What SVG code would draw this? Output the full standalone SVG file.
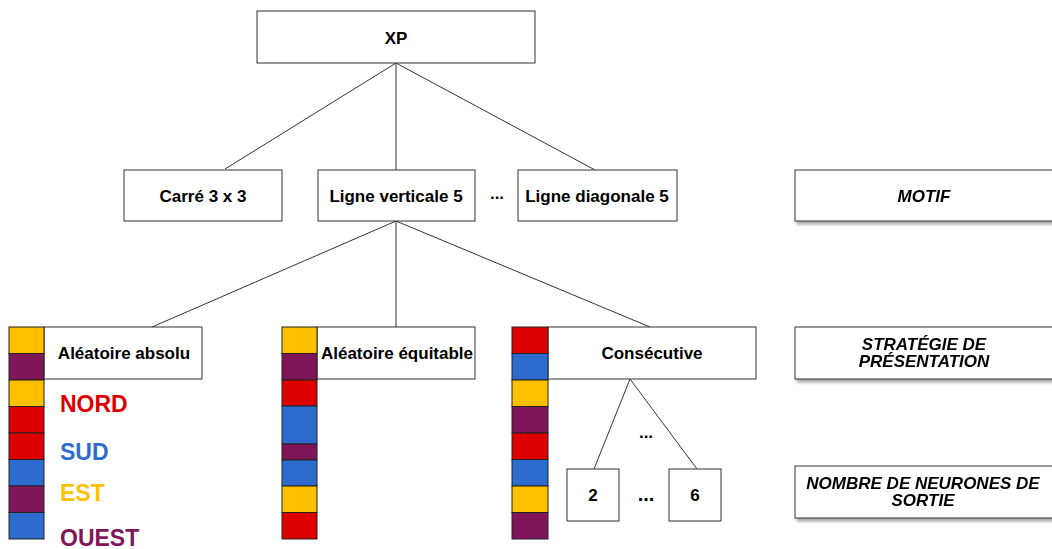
<svg xmlns="http://www.w3.org/2000/svg" width="1052" height="549" viewBox="0 0 1052 549">
<defs>
<filter id="sh" x="-10%" y="-20%" width="130%" height="160%">
<feGaussianBlur in="SourceAlpha" stdDeviation="1.5"/>
<feOffset dx="2" dy="3" result="b"/>
<feComponentTransfer><feFuncA type="linear" slope="0.35"/></feComponentTransfer>
<feMerge><feMergeNode/><feMergeNode in="SourceGraphic"/></feMerge>
</filter>
</defs>
<style>
.box{fill:#fff;stroke:#333;stroke-width:1}
.t{font-family:"Liberation Sans",Arial,sans-serif;font-weight:bold;font-size:17px;fill:#000;text-anchor:middle}
.i{font-style:italic}
.lbl{font-family:"Liberation Sans",Arial,sans-serif;font-weight:bold;font-size:23px}
.y{fill:#FFC000;stroke:#222;stroke-width:1}
.p{fill:#80155A;stroke:#222;stroke-width:1}
.r{fill:#DD0000;stroke:#222;stroke-width:1}
.b{fill:#2D6BCF;stroke:#222;stroke-width:1}
.c{stroke:#333;stroke-width:1;fill:none}
</style>
<rect width="1052" height="549" fill="#fff"/>
<g id="connectors">
<line class="c" x1="396" y1="63" x2="225" y2="169"/>
<line class="c" x1="396" y1="63" x2="396" y2="170"/>
<line class="c" x1="396" y1="63" x2="595" y2="170"/>
<line class="c" x1="396" y1="221" x2="152" y2="327"/>
<line class="c" x1="396" y1="221" x2="396" y2="327"/>
<line class="c" x1="396" y1="221" x2="650" y2="327"/>
<line class="c" x1="630" y1="379" x2="594" y2="469"/>
<line class="c" x1="630" y1="379" x2="697" y2="469"/>
</g>
<g id="xp"><rect class="box" x="257" y="11" width="278" height="52"/><text class="t" x="396" y="44">XP</text></g>
<g id="carre"><rect class="box" x="124" y="170" width="158" height="51"/><text class="t" x="203" y="202">Carré 3 x 3</text></g>
<g id="ligne-verticale"><rect class="box" x="318" y="170" width="157" height="51"/><text class="t" x="396" y="202">Ligne verticale 5</text></g>
<g id="dots1"><text class="t" x="497" y="199">...</text></g>
<g id="ligne-diagonale"><rect class="box" x="518" y="170" width="159" height="51"/><text class="t" x="597" y="202">Ligne diagonale 5</text></g>
<g id="motif" filter="url(#sh)"><rect class="box" x="795" y="170" width="262" height="51"/><text class="t i" x="924" y="202">MOTIF</text></g>
<g id="strategie" filter="url(#sh)"><rect class="box" x="795" y="327" width="262" height="52"/><text class="t i" x="924" y="350">STRATÉGIE DE</text><text class="t i" x="924" y="367">PRÉSENTATION</text></g>
<g id="nombre" filter="url(#sh)"><rect class="box" x="795" y="466" width="262" height="52"/><text class="t i" x="923" y="489">NOMBRE DE NEURONES DE</text><text class="t i" x="923" y="506">SORTIE</text></g>
<g id="aleatoire-absolu">
<rect class="box" x="44" y="327" width="158" height="52"/><text class="t" x="124" y="359">Aléatoire absolu</text>
<rect class="y" x="9" y="327" width="35" height="26.5"/>
<rect class="p" x="9" y="353.5" width="35" height="26.5"/>
<rect class="y" x="9" y="380" width="35" height="26.5"/>
<rect class="r" x="9" y="406.5" width="35" height="26.5"/>
<rect class="r" x="9" y="433" width="35" height="26.5"/>
<rect class="b" x="9" y="459.5" width="35" height="26.5"/>
<rect class="p" x="9" y="486" width="35" height="26.5"/>
<rect class="b" x="9" y="512.5" width="35" height="26.5"/>
</g>
<g id="legende">
<text class="lbl" x="60" y="412" fill="#DD0000">NORD</text>
<text class="lbl" x="60" y="460" fill="#2D6BCF">SUD</text>
<text class="lbl" x="60" y="501" fill="#FFC000">EST</text>
<text class="lbl" x="60" y="546" fill="#80155A">OUEST</text>
</g>
<g id="aleatoire-equitable">
<rect class="box" x="317" y="327" width="158" height="52"/><text class="t" x="397" y="359">Aléatoire équitable</text>
<rect class="y" x="282" y="327" width="35" height="26.5"/>
<rect class="p" x="282" y="353.5" width="35" height="26.5"/>
<rect class="r" x="282" y="380" width="35" height="26"/>
<rect class="b" x="282" y="406" width="35" height="38"/>
<rect class="p" x="282" y="444" width="35" height="16"/>
<rect class="b" x="282" y="460" width="35" height="26"/>
<rect class="y" x="282" y="486" width="35" height="26.5"/>
<rect class="r" x="282" y="512.5" width="35" height="26.5"/>
</g>
<g id="consecutive">
<rect class="box" x="548" y="327" width="208" height="52"/><text class="t" x="652" y="359">Consécutive</text>
<rect class="r" x="512" y="327" width="36" height="26.5"/>
<rect class="b" x="512" y="353.5" width="36" height="26.5"/>
<rect class="y" x="512" y="380" width="36" height="26.5"/>
<rect class="p" x="512" y="406.5" width="36" height="26.5"/>
<rect class="r" x="512" y="433" width="36" height="26.5"/>
<rect class="b" x="512" y="459.5" width="36" height="26.5"/>
<rect class="y" x="512" y="486" width="36" height="26.5"/>
<rect class="p" x="512" y="512.5" width="36" height="26.5"/>
</g>
<g id="dots2"><text class="t" x="646" y="438">...</text></g>
<g id="n2"><rect class="box" x="567" y="469" width="52" height="52"/><text class="t" x="593" y="501">2</text></g>
<g id="dots3"><text class="t" x="646" y="501" style="font-size:20px">...</text></g>
<g id="n6"><rect class="box" x="669" y="469" width="52" height="52"/><text class="t" x="695" y="501">6</text></g>
</svg>
